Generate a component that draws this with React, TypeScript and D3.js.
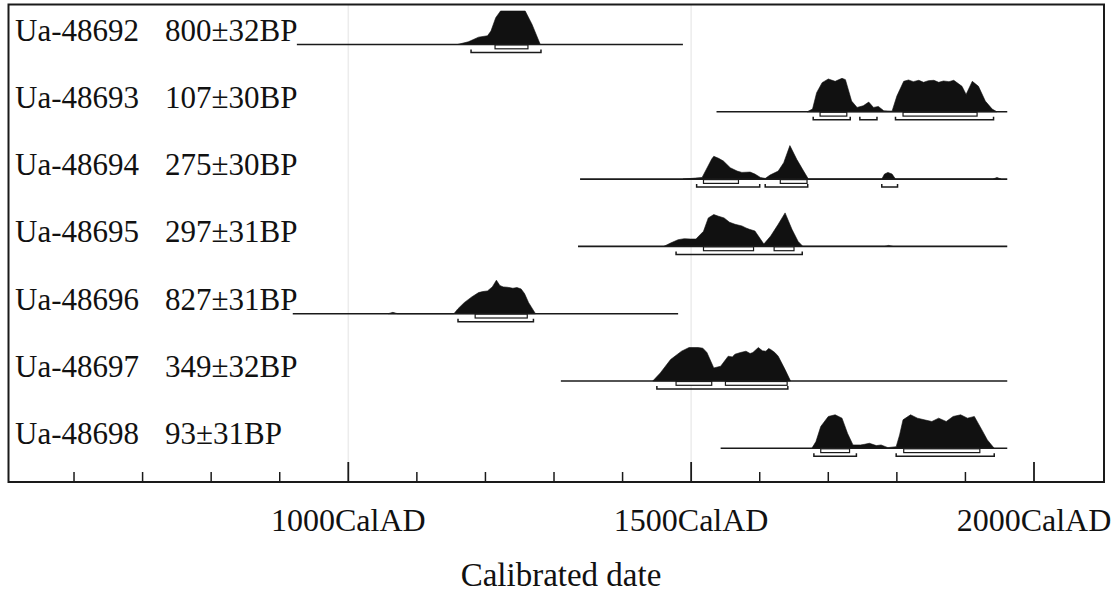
import React from "react";
import * as d3 from "d3";

const sampleIds = ["Ua-48692", "Ua-48693", "Ua-48694", "Ua-48695", "Ua-48696", "Ua-48697", "Ua-48698"];
const bpDates = ["800±32BP", "107±30BP", "275±30BP", "297±31BP", "827±31BP", "349±32BP", "93±31BP"];

// extent of the calibrated curve line (cal AD)
const plotRanges: [number, number][] = [
  [925, 1488], [1537, 1961], [1338, 1961], [1335, 1961], [919, 1481], [1310, 1961], [1543, 1961],
];

// 68.2% ranges
const ranges68: [number, number][][] = [
  [[1214, 1262]],
  [[1688, 1727], [1809, 1917]],
  [[1518, 1569], [1630, 1669]],
  [[1518, 1591], [1621, 1650]],
  [[1185, 1261]],
  [[1478, 1530], [1550, 1640]],
  [[1689, 1731], [1810, 1921]],
];

// 95.4% ranges
const ranges95: [number, number][][] = [
  [[1179, 1281]],
  [[1678, 1732], [1746, 1771], [1798, 1941]],
  [[1508, 1600], [1608, 1670], [1778, 1801]],
  [[1478, 1662]],
  [[1160, 1270]],
  [[1450, 1641]],
  [[1679, 1741], [1799, 1942]],
];

// relative probability (year, density 0..1)
const dens48692: [number, number][] = [
  [1159, 0], [1175, 0.08], [1190, 0.22], [1203, 0.26], [1208, 0.4], [1215, 0.8], [1222, 1.0],
  [1258, 1.0], [1268, 0.6], [1280, 0],
];
const dens48693: [number, number][] = [
  [1669, 0], [1677, 0.08], [1683, 0.57], [1691, 0.87], [1700, 0.98], [1710, 0.91], [1720, 1.0],
  [1725, 0.96], [1734, 0.32], [1742, 0.13], [1751, 0.18], [1759, 0.29], [1766, 0.13], [1773, 0.16],
  [1781, 0.03], [1793, 0.02], [1800, 0.47], [1810, 0.91], [1817, 0.95], [1824, 0.9], [1832, 0.94],
  [1839, 0.88], [1846, 0.93], [1854, 0.94], [1861, 0.88], [1868, 0.92], [1876, 0.9], [1883, 0.94],
  [1895, 0.76], [1901, 0.52], [1910, 0.91], [1919, 0.76], [1929, 0.32], [1939, 0.08], [1946, 0],
];
const dens48694: [number, number][] = [
  [1488, 0], [1506, 0.03], [1516, 0.05], [1530, 0.6], [1533, 0.68], [1540, 0.62], [1547, 0.54],
  [1557, 0.34], [1567, 0.24], [1574, 0.2], [1586, 0.21], [1593, 0.15], [1601, 0.05], [1608, 0.02],
  [1615, 0.12], [1627, 0.24], [1635, 0.49], [1644, 1.0], [1654, 0.59], [1664, 0.24], [1671, 0],
  [1778, 0], [1782, 0.15], [1787, 0.2], [1793, 0.15], [1798, 0],
  [1940, 0], [1946, 0.05], [1952, 0],
];
const dens48695: [number, number][] = [
  [1460, 0], [1470, 0.1], [1481, 0.2], [1490, 0.23], [1499, 0.22], [1507, 0.22], [1518, 0.45],
  [1525, 0.85], [1533, 0.95], [1540, 0.9], [1548, 0.85], [1556, 0.72], [1564, 0.66], [1574, 0.61],
  [1580, 0.55], [1585, 0.51], [1593, 0.46], [1600, 0.25], [1606, 0.07], [1616, 0.31], [1627, 0.66],
  [1637, 1.0], [1647, 0.51], [1656, 0.15], [1663, 0],
  [1782, 0], [1788, 0.03], [1794, 0],
];
const dens48696: [number, number][] = [
  [1058, 0], [1065, 0.04], [1072, 0],
  [1154, 0], [1160, 0.15], [1169, 0.33], [1180, 0.5], [1190, 0.63], [1196, 0.66], [1203, 0.68],
  [1210, 0.8], [1216, 1.0], [1221, 0.84], [1226, 0.8], [1232, 0.79], [1240, 0.76], [1246, 0.78],
  [1252, 0.74], [1257, 0.6], [1263, 0.33], [1273, 0],
];
const dens48697: [number, number][] = [
  [1444, 0], [1455, 0.24], [1470, 0.64], [1486, 0.89], [1497, 1.0], [1510, 1.0], [1517, 0.98],
  [1523, 0.85], [1533, 0.39], [1543, 0.44], [1554, 0.74], [1560, 0.72], [1564, 0.8], [1572, 0.85],
  [1580, 0.89], [1586, 0.82], [1590, 0.85], [1598, 1.0], [1604, 0.9], [1609, 0.89], [1613, 0.97],
  [1616, 0.94], [1622, 0.85], [1627, 0.74], [1637, 0.34], [1645, 0],
];
const dens48698: [number, number][] = [
  [1676, 0], [1682, 0.2], [1689, 0.65], [1700, 0.95], [1710, 1.0], [1720, 0.9], [1728, 0.45],
  [1736, 0.1], [1747, 0.1], [1753, 0.12], [1760, 0.15], [1770, 0.08], [1777, 0.1], [1787, 0.02],
  [1799, 0.05], [1804, 0.4], [1809, 0.85], [1820, 1.0], [1830, 0.9], [1840, 0.85], [1851, 0.8],
  [1861, 0.9], [1872, 0.8], [1882, 0.95], [1893, 1.0], [1903, 0.9], [1913, 0.95], [1924, 0.55],
  [1932, 0.25], [1942, 0],
];
const densities = [dens48692, dens48693, dens48694, dens48695, dens48696, dens48697, dens48698];

const majorTicks = [1000, 1500, 2000];
const tickLabels = ["1000CalAD", "1500CalAD", "2000CalAD"];
const minorTicks = [600, 700, 800, 900, 1100, 1200, 1300, 1400, 1600, 1700, 1800, 1900];
const axisTitle = "Calibrated date";

const W = 1119;
const H = 596;
const FRAME_L = 8.5;
const FRAME_R = 1104;
const FRAME_T = 4.5;
const AXIS_Y = 482;
const PEAK_H = 33.5;
const FONT = "'Liberation Serif', 'Times New Roman', Times, serif";

export default function App() {
  const x = d3.scaleLinear().domain([1000, 2000]).range([348.3, 1034]);
  const rowY = d3.scalePoint<string>().domain(sampleIds).range([44.5, 448.3]);

  return (
    <svg
      width={W}
      height={H}
      style={{ position: "absolute", left: 0, top: 0, background: "#fff" }}
      fontFamily={FONT}
    >
      <rect x={0} y={0} width={W} height={H} fill="#fff" />
      {/* faint scan lines */}
      {[1000, 1500].map((t) => (
        <line key={"g" + t} x1={x(t)} x2={x(t)} y1={FRAME_T} y2={AXIS_Y} stroke="#ececec" strokeWidth={1.5} />
      ))}
      {/* frame */}
      <path
        d={`M${FRAME_L},${AXIS_Y} L${FRAME_L},${FRAME_T} L${FRAME_R},${FRAME_T} L${FRAME_R},${AXIS_Y} Z`}
        fill="none"
        stroke="#1a1a1a"
        strokeWidth={2}
      />
      {sampleIds.map((id, i) => {
        const by = rowY(id)!;
        const area = d3
          .area<[number, number]>()
          .x((d) => x(d[0]))
          .y0(by)
          .y1((d) => by - d[1] * PEAK_H);
        return (
          <g key={id}>
            <text y={by - 4} fontSize={31} fill="#111">
              <tspan x={15}>{id}</tspan>
              <tspan x={165}>{bpDates[i]}</tspan>
            </text>
            <path d={area(densities[i]) || ""} fill="#111" stroke="#111" strokeWidth={0.6} />
            <line
              x1={x(plotRanges[i][0])}
              x2={x(plotRanges[i][1])}
              y1={by}
              y2={by}
              stroke="#1a1a1a"
              strokeWidth={1.6}
            />
            {ranges68[i].map((r, j) => (
              <rect
                key={"r68" + j}
                x={x(r[0])}
                y={by + 0.5}
                width={x(r[1]) - x(r[0])}
                height={3.8}
                fill="#fff"
                stroke="#1a1a1a"
                strokeWidth={1.2}
              />
            ))}
            {ranges95[i].map((r, j) => (
              <path
                key={"r95" + j}
                d={`M${x(r[0])},${by + 5} L${x(r[0])},${by + 8} L${x(r[1])},${by + 8} L${x(r[1])},${by + 5}`}
                fill="none"
                stroke="#1a1a1a"
                strokeWidth={1.5}
              />
            ))}
          </g>
        );
      })}
      {/* axis */}
      <line x1={FRAME_L} x2={FRAME_R} y1={AXIS_Y} y2={AXIS_Y} stroke="#1a1a1a" strokeWidth={2} />
      {minorTicks.map((t) => (
        <line key={"m" + t} x1={x(t)} x2={x(t)} y1={AXIS_Y - 10} y2={AXIS_Y} stroke="#1a1a1a" strokeWidth={1.5} />
      ))}
      {majorTicks.map((t, i) => (
        <g key={"M" + t}>
          <line x1={x(t)} x2={x(t)} y1={AXIS_Y - 20} y2={AXIS_Y} stroke="#1a1a1a" strokeWidth={1.8} />
          <text x={x(t)} y={531} fontSize={32} textAnchor="middle" fill="#111">
            {tickLabels[i]}
          </text>
        </g>
      ))}
      <text x={561} y={586} fontSize={33} textAnchor="middle" fill="#111">
        {axisTitle}
      </text>
    </svg>
  );
}
